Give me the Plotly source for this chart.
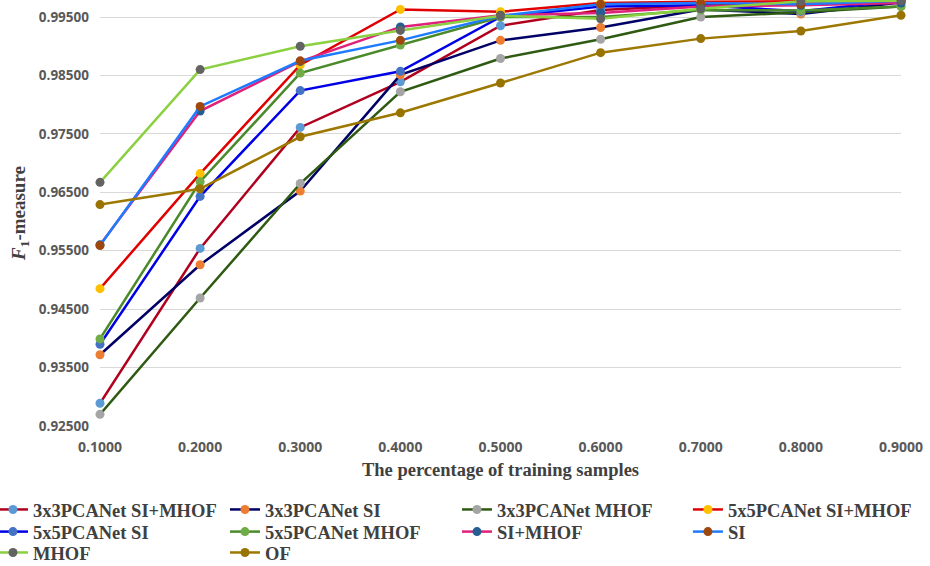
import plotly.graph_objects as go

x_vals = [0.1, 0.2, 0.3, 0.4, 0.5, 0.6, 0.7, 0.8, 0.9]

names = ["3x3PCANet SI+MHOF", "3x3PCANet SI", "3x3PCANet MHOF", "5x5PCANet SI+MHOF",
         "5x5PCANet SI", "5x5PCANet MHOF", "SI+MHOF", "SI", "MHOF", "OF"]

pca3_si_mhof = [0.9289, 0.9554, 0.9761, 0.9839, 0.9935, 0.9962, 0.9970, 0.9972, 0.9976]
pca3_si = [0.9372, 0.9526, 0.9652, 0.9851, 0.9910, 0.9932, 0.9963, 0.9955, 0.9975]
pca3_mhof = [0.9270, 0.9469, 0.9665, 0.9822, 0.9879, 0.9912, 0.9950, 0.9958, 0.9968]
pca5_si_mhof = [0.9485, 0.9682, 0.9868, 0.9963, 0.9959, 0.9974, 0.9976, 0.9977, 0.9978]
pca5_si = [0.9390, 0.9643, 0.9824, 0.9857, 0.9950, 0.9968, 0.9970, 0.9960, 0.9978]
pca5_mhof = [0.9399, 0.9668, 0.9854, 0.9902, 0.9950, 0.9950, 0.9962, 0.9961, 0.9968]
si_mhof = [0.9560, 0.9789, 0.9874, 0.9933, 0.9953, 0.9957, 0.9968, 0.9970, 0.9974]
si = [0.9559, 0.9797, 0.9875, 0.9910, 0.9952, 0.9972, 0.9974, 0.9972, 0.9978]
mhof = [0.9667, 0.9860, 0.9900, 0.9927, 0.9952, 0.9947, 0.9964, 0.9977, 0.9978]
of = [0.9629, 0.9656, 0.9745, 0.9786, 0.9837, 0.9889, 0.9913, 0.9926, 0.9953]

series = [pca3_si_mhof, pca3_si, pca3_mhof, pca5_si_mhof, pca5_si, pca5_mhof, si_mhof, si, mhof, of]

line_colors = ["#B0001E", "#000066", "#2E5A12", "#E00000", "#0000E6",
               "#4A8A2A", "#E0207A", "#1E7BFF", "#8AD040", "#9C7800"]
marker_colors = ["#5B9BD5", "#ED7D31", "#A5A5A5", "#FFC000", "#4472C4",
                 "#70AD47", "#255E91", "#9E480E", "#636363", "#997300"]
# legend groups: rows 1-3 for columns 1-3, legend4/legend5 for column 4
legend_ids = ["legend", "legend", "legend", "legend4",
              "legend2", "legend2", "legend2", "legend5",
              "legend3", "legend3"]

y_ticks = [0.925, 0.935, 0.945, 0.955, 0.965, 0.975, 0.985, 0.995]
y_tick_text = ["0.92500", "0.93500", "0.94500", "0.95500", "0.96500", "0.97500", "0.98500", "0.99500"]
x_tick_text = ["0.1000", "0.2000", "0.3000", "0.4000", "0.5000", "0.6000", "0.7000", "0.8000", "0.9000"]

fig = go.Figure()
for name, vals, lc, mc, lg in zip(names, series, line_colors, marker_colors, legend_ids):
    fig.add_trace(go.Scatter(
        x=x_vals, y=vals, name=name, mode="lines+markers",
        line=dict(color=lc, width=2.5),
        marker=dict(color=mc, size=9),
        cliponaxis=False, legend=lg,
    ))

serif = "Liberation Serif"
legend_font = dict(family=serif, size=18.5, color="#404040", weight="bold")


def legend_box(x, y):
    return dict(
        orientation="h", x=x, xanchor="left", y=y, yanchor="middle",
        font=legend_font, entrywidth=187, entrywidthmode="pixels",
        itemwidth=30, bgcolor="rgba(0,0,0,0)", borderwidth=0,
    )


row_y = [-0.197, -0.249, -0.298]
col1_x = -0.1336
col4_x = 0.734

fig.update_layout(
    width=930, height=566,
    margin=dict(l=100, r=29, t=0, b=140, autoexpand=False),
    paper_bgcolor="white", plot_bgcolor="white",
    showlegend=True,
    legend=legend_box(col1_x, row_y[0]),
    legend2=legend_box(col1_x, row_y[1]),
    legend3=legend_box(col1_x, row_y[2]),
    legend4=legend_box(col4_x, row_y[0]),
    legend5=legend_box(col4_x, row_y[1]),
    xaxis=dict(
        range=[0.1, 0.9], tickvals=x_vals, ticktext=x_tick_text,
        showgrid=False, zeroline=False, showline=False,
        tickfont=dict(family="Open Sans", size=14, color="#595959", weight="bold"),
        ticklabelstandoff=11,
        title=dict(text="The percentage of training samples", standoff=8,
                   font=dict(family=serif, size=18.5, color="#404040", weight="bold")),
    ),
    yaxis=dict(
        range=[0.925, 0.99791], tickvals=y_ticks, ticktext=y_tick_text,
        showgrid=True, gridcolor="#D9D9D9", gridwidth=1, zeroline=False, showline=False,
        tickfont=dict(family="Open Sans", size=13.5, color="#595959", weight="bold"),
        ticklabelstandoff=10,
        title=dict(text="<i>F</i><sub>1</sub>-measure", standoff=8,
                   font=dict(family=serif, size=19, color="#404040", weight="bold")),
    ),
)

fig.write_html("out.html", config={"displayModeBar": False},
               post_script="document.body.style.margin='0';")
